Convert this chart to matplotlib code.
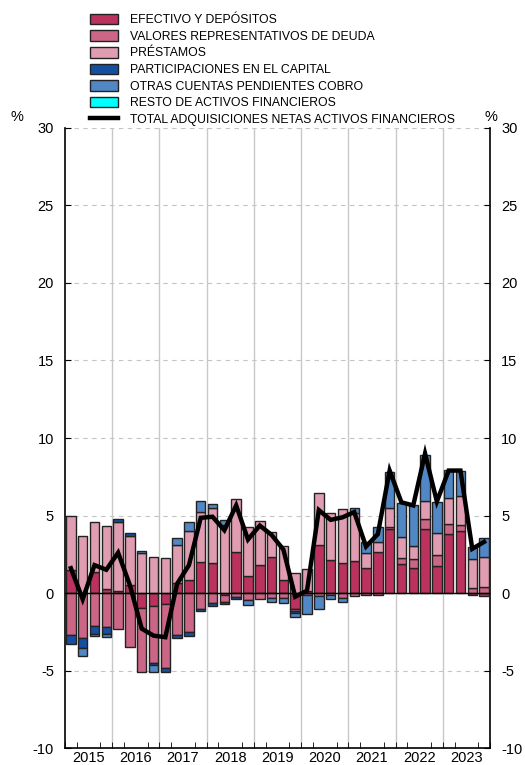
import numpy as np
import matplotlib.pyplot as plt
import matplotlib.patches as mpatches
import matplotlib.lines as mlines

plt.rcParams['font.family'] = ['Liberation Sans', 'DejaVu Sans']
plt.rcParams['axes.unicode_minus'] = False

# --- Data (% , quarterly 2015Q1 - 2023Q4) ---
years = ["2015", "2016", "2017", "2018", "2019", "2020", "2021", "2022", "2023"]

efectivo = [1.5, 0.0, 1.37, 0.24, 0.12, 0.5, -0.95, -0.84, -0.73, 0.62, 0.84, 2.02,
            1.91, -0.1, 2.67, 1.1, 1.8, 2.3, 0.84, -1.0, 0.1, 3.1, 2.1, 1.91,
            2.09, 1.59, 2.67, 4.1, 1.85, 1.59, 4.13, 1.74, 3.79, 4.0, -0.1, -0.17]
valores = [-2.7, -2.9, -2.13, -2.17, -2.32, -3.46, -4.13, -3.7, -4.09, -2.71, -2.5, -1.0,
           -0.67, -0.45, -0.28, -0.45, -0.4, -0.34, -0.34, -0.15, -0.1, -0.2, -0.1, -0.35,
           -0.2, -0.1, -0.15, 0.18, 0.39, 0.58, 0.62, 0.71, 0.64, 0.39, 0.3, 0.37]
prestamos = [3.5, 3.7, 3.2, 4.1, 4.45, 3.2, 2.56, 2.34, 2.24, 2.48, 3.16, 3.23,
             3.55, 4.39, 3.39, 3.18, 2.87, 1.66, 2.19, 1.27, 1.43, 3.33, 3.04, 3.51,
             3.05, 0.97, 0.64, 1.18, 1.39, 0.86, 1.21, 1.45, 1.72, 1.87, 1.87, 1.93]
participaciones = [-0.6, -0.65, -0.5, -0.45, 0.2, 0.15, 0.0, -0.13, -0.28, -0.21, -0.27, -0.16,
                   -0.15, -0.15, -0.13, 0.0, 0.0, 0.0, 0.0, -0.15, 0.0, 0.0, 0.0, 0.0,
                   0.0, 0.0, 0.0, 0.0, 0.0, 0.0, 0.0, 0.0, 0.0, 0.0, 0.0, 0.0]
otras = [0.0, -0.5, -0.17, -0.22, 0.0, 0.0, 0.17, -0.45, 0.0, 0.43, 0.6, 0.69,
         0.26, 0.32, 0.0, -0.32, 0.0, -0.22, -0.28, -0.23, -1.25, -0.85, -0.3, -0.25,
         0.32, 0.75, 0.97, 2.37, 2.2, 2.65, 2.94, 2.0, 1.79, 1.63, 0.78, 1.23]
resto = [0.0] * 36
total = [1.6, -0.4, 1.8, 1.5, 2.6, 0.5, -2.3, -2.75, -2.85, 0.6, 1.8, 4.85,
         4.92, 4.05, 5.65, 3.45, 4.35, 3.75, 2.8, -0.24, 0.15, 5.35, 4.72, 4.88,
         5.22, 3.0, 3.8, 7.9, 5.85, 5.65, 9.0, 5.9, 7.9, 7.9, 2.85, 3.3]

labels = ["EFECTIVO Y DEPÓSITOS", "VALORES REPRESENTATIVOS DE DEUDA", "PRÉSTAMOS",
          "PARTICIPACIONES EN EL CAPITAL", "OTRAS CUENTAS PENDIENTES COBRO",
          "RESTO DE ACTIVOS FINANCIEROS"]
colors = ["#BB325E", "#CC6686", "#E09DB2", "#1550A0", "#5087C4", "#00FFFF"]
series = [efectivo, valores, prestamos, participaciones, otras, resto]

fig = plt.figure(figsize=(5.25, 7.65), dpi=100)
ax = fig.add_axes([0.1238, 0.0222, 0.8095, 0.8105])

x = np.arange(len(total))
pos_base = np.zeros(len(x))
neg_base = np.zeros(len(x))
for vals, color in zip(series, colors):
    v = np.array(vals)
    for i in range(len(x)):
        if v[i] > 0:
            ax.bar(x[i], v[i], bottom=pos_base[i], width=0.8, color=color,
                   edgecolor="#222222", linewidth=1.0, zorder=3)
            pos_base[i] += v[i]
        elif v[i] < 0:
            ax.bar(x[i], v[i], bottom=neg_base[i], width=0.8, color=color,
                   edgecolor="#222222", linewidth=1.0, zorder=3)
            neg_base[i] += v[i]

ax.plot(x, total, color="black", linewidth=3.2, zorder=5, solid_joinstyle="miter")
ax.axhline(0, color="black", linewidth=1.0, zorder=4)

ax.set_xlim(-0.5, len(x) - 0.5)
ax.set_ylim(-10, 30)

# grid
for yv in range(-5, 31, 5):
    if yv != 0:
        ax.axhline(yv, color="#C4C4C4", linewidth=0.8, linestyle=(0, (4, 4)), zorder=1)
for k in range(1, len(years)):
    ax.axvline(4 * k - 0.5, color="#C8C8C8", linewidth=1.0, zorder=1)

# ticks
ax.set_yticks(range(-10, 31, 5))
ax.tick_params(axis="y", direction="in", length=4, labelsize=10.5,
               left=True, right=True, labelleft=True, labelright=True, pad=8)
ax.set_xticks([4 * k + 1.5 for k in range(len(years))])
ax.set_xticklabels(years)
ax.set_xticks(np.arange(-0.5, len(x), 1), minor=True)
ax.tick_params(axis="x", which="major", length=0, labelsize=10.5, pad=2)
ax.tick_params(axis="x", which="minor", direction="in", length=4)

ax.spines["top"].set_visible(False)
for s in ["left", "right", "bottom"]:
    ax.spines[s].set_linewidth(1.2)

fig.text(0.032, 0.847, "%", fontsize=10.5, ha="center", va="center")
fig.text(0.935, 0.847, "%", fontsize=10.5, ha="center", va="center")

# legend
handles = [mpatches.Patch(facecolor=c, edgecolor="#222222", linewidth=1.0) for c in colors]
handles.append(mlines.Line2D([], [], color="black", linewidth=3.2))
fig.legend(handles, labels + ["TOTAL ADQUISICIONES NETAS ACTIVOS FINANCIEROS"],
           loc="upper left", bbox_to_anchor=(0.171, 0.982), frameon=False,
           fontsize=8.8, handlelength=2.3, handleheight=0.95, labelspacing=0.34,
           handletextpad=1.0, borderaxespad=0, borderpad=0)

fig.savefig("out.png", dpi=100)
